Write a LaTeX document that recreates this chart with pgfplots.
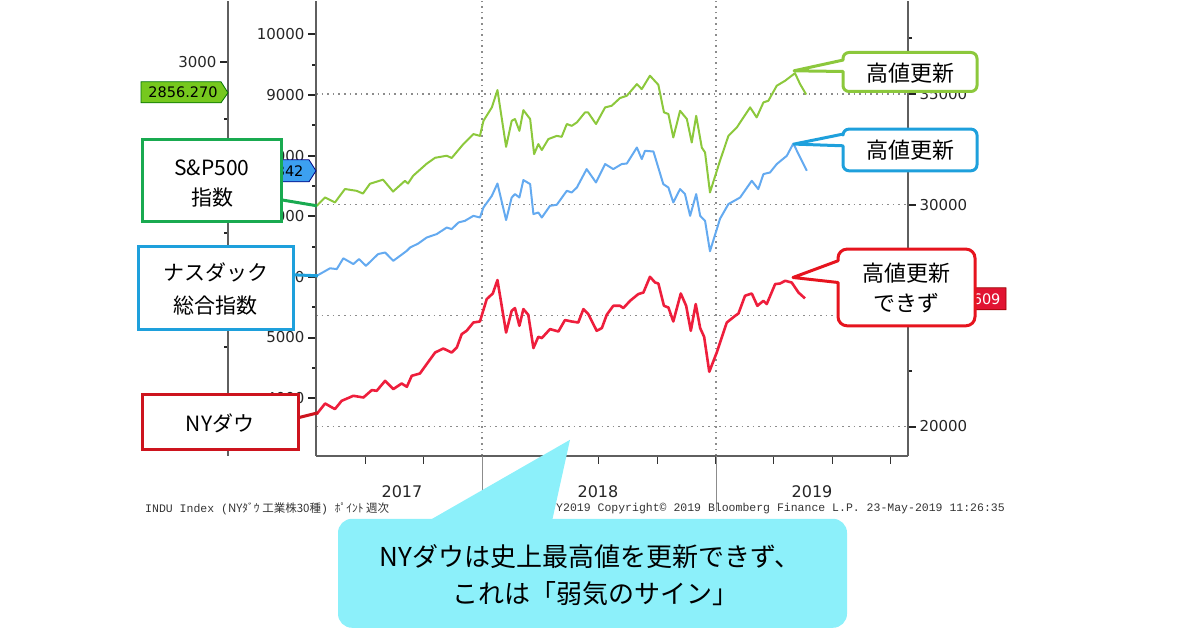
\documentclass[border=0pt]{standalone}
\usepackage{pgfplots}
\pgfplotsset{compat=1.18}
\usepackage{fontspec}
\setmainfont{DejaVu Sans}
\newfontfamily\jp{Noto Sans CJK JP}
\newfontfamily\mono{Liberation Mono}
\definecolor{spline}{RGB}{140,200,60}
\definecolor{nqline}{RGB}{100,170,240}
\definecolor{djline}{RGB}{238,30,60}
\definecolor{spbox}{RGB}{25,170,80}
\definecolor{nqbox}{RGB}{30,160,220}
\definecolor{djbox}{RGB}{205,20,30}
\definecolor{gcall}{RGB}{140,200,60}
\definecolor{rcall}{RGB}{230,20,30}
\definecolor{cyanbox}{RGB}{140,240,250}
\definecolor{axgray}{RGB}{95,95,95}
\definecolor{gridgray}{RGB}{140,140,140}
\definecolor{sptag}{RGB}{118,200,30}
\definecolor{nqtag}{RGB}{60,160,240}
\definecolor{djtag}{RGB}{225,20,50}
\pgfplotsset{
  base/.style={at={(316pt,175pt)}, anchor=south west, width=592pt, height=455pt,
    scale only axis, xmin=2017.289, xmax=2019.824, clip=true},
  ticklab/.style={font=\fontsize{15}{15}\selectfont, text=black!85},
}
\tikzset{gridst/.style={draw=gridgray, line width=1.3pt, dash pattern=on 1.6pt off 4pt}}
\begin{document}
\begin{tikzpicture}
\begin{scope}[x=1pt,y=1pt]
\useasboundingbox (0,0) rectangle (1200,630);
\draw[gridst] (482,175) -- (482,630);
\draw[gridst] (716,175) -- (716,630);
\end{scope}
% ---------- Dow axis (right) ----------
\begin{axis}[base, ymin=18679, ymax=39199,
  axis x line*=bottom, axis y line*=right,
  x axis line style={-}, y axis line style={-},
  axis line style={draw=axgray, line width=1.6pt},
  xtick={2017.5,2017.75,2018,2018.25,2018.5,2018.75,2019,2019.25,2019.5,2019.75},
  xticklabels={,,,,,,,,,},
  ytick={20000,25000,30000,35000}, yticklabels={20000,,30000,35000},
  minor ytick={22500,27500,32500,37500},
  scaled y ticks=false, scaled x ticks=false,
  tick align=outside, major tick length=8pt, minor tick length=4pt,
  xtick style={draw=black!80, line width=1pt},
  ytick style={draw=black!85, line width=2pt},
  minor tick style={line width=1pt},
  yticklabel style={ticklab},
  ymajorgrids, major grid style={gridst},
]
\addplot[djline, line width=2.6pt, line join=round] coordinates {
(2017.292,20559) (2017.328,21037) (2017.370,20785) (2017.399,21159) (2017.449,21385) (2017.492,21308) (2017.528,21642) (2017.549,21610) (2017.585,22061) (2017.620,21687) (2017.656,21939) (2017.678,21790) (2017.699,22287) (2017.734,22390) (2017.763,22814) (2017.799,23337) (2017.834,23518) (2017.870,23337) (2017.892,23563) (2017.913,24167) (2017.934,24316) (2017.963,24690) (2017.991,24736) (2018.020,25746) (2018.046,25998) (2018.066,26603) (2018.103,24239) (2018.127,25218) (2018.141,25340) (2018.160,24542) (2018.177,25295) (2018.198,25038) (2018.220,23536) (2018.241,24045) (2018.256,23987) (2018.291,24393) (2018.327,24285) (2018.355,24799) (2018.384,24736) (2018.412,24690) (2018.434,25295) (2018.455,25069) (2018.491,24316) (2018.513,24438) (2018.534,25038) (2018.562,25444) (2018.591,25444) (2018.605,25340) (2018.634,25669) (2018.669,25971) (2018.691,26043) (2018.719,26751) (2018.741,26494) (2018.755,26449) (2018.779,25444) (2018.798,25367) (2018.819,24736) (2018.851,25998) (2018.874,25444) (2018.894,24316) (2018.915,25520) (2018.934,24438) (2018.951,24045) (2018.973,22467) (2019.005,23337) (2019.048,24690) (2019.084,24993) (2019.098,25096) (2019.126,25895) (2019.155,25998) (2019.179,25444) (2019.205,25669) (2019.219,25520) (2019.255,26422) (2019.276,26449) (2019.298,26571) (2019.326,26494) (2019.355,26043) (2019.383,25776.61)
};
\end{axis}
% ---------- Nasdaq axis (left of plot) ----------
\begin{axis}[base, ymin=3048.4, ymax=10556,
  axis x line=none, axis y line*=left, y axis line style={-},
  axis line style={draw=axgray, line width=1.6pt},
  ytick={4000,5000,6000,7000,8000,9000,10000},
  yticklabels={4000,5000,6000,7000,8000,9000,10000},
  minor ytick={4500,5500,6500,7500,8500,9500},
  scaled y ticks=false,
  tick align=outside, major tick length=8pt, minor tick length=4pt,
  ytick style={draw=black!85, line width=2pt},
  minor tick style={line width=1pt},
  yticklabel style={ticklab},
]
\addplot[nqline, line width=2pt, line join=round] coordinates {
(2017.292,6018) (2017.349,6142) (2017.378,6129) (2017.406,6307) (2017.449,6212) (2017.473,6294) (2017.503,6183) (2017.555,6377) (2017.585,6403) (2017.620,6266) (2017.649,6348) (2017.678,6431) (2017.692,6485) (2017.727,6551) (2017.763,6650) (2017.806,6707) (2017.849,6815) (2017.870,6789) (2017.899,6898) (2017.927,6926) (2017.963,7008) (2017.991,6980) (2018.006,7145) (2018.042,7338) (2018.066,7541) (2018.103,6938) (2018.127,7310) (2018.141,7367) (2018.160,7310) (2018.177,7598) (2018.206,7532) (2018.220,7037) (2018.241,7063) (2018.256,6980) (2018.291,7173) (2018.320,7190) (2018.363,7421) (2018.384,7393) (2018.406,7475) (2018.448,7779) (2018.488,7558) (2018.527,7862) (2018.562,7779) (2018.598,7862) (2018.620,7871) (2018.663,8135) (2018.684,7944) (2018.698,8081) (2018.734,8069) (2018.776,7532) (2018.798,7475) (2018.819,7228) (2018.848,7449) (2018.869,7367) (2018.891,7008) (2018.917,7367) (2018.934,7008) (2018.955,6926) (2018.976,6423) (2019.019,6959) (2019.055,7202) (2019.105,7310) (2019.155,7586) (2019.183,7449) (2019.205,7697) (2019.233,7723) (2019.262,7862) (2019.305,7998) (2019.333,8201) (2019.355,8027) (2019.391,7750.84)
};
\end{axis}
% ---------- S&P 500 series ----------
\begin{axis}[base, ymin=1272, ymax=3267.5, hide axis]
\addplot[spline, line width=2pt, line join=round] coordinates {
(2017.292,2368) (2017.328,2405) (2017.370,2383) (2017.413,2442) (2017.463,2434) (2017.490,2422) (2017.520,2465) (2017.576,2483) (2017.619,2431) (2017.670,2478) (2017.683,2466) (2017.705,2500) (2017.763,2553) (2017.799,2579) (2017.849,2588) (2017.870,2578) (2017.920,2639) (2017.963,2683) (2017.991,2675) (2018.006,2741) (2018.042,2800) (2018.066,2876) (2018.103,2627) (2018.127,2741) (2018.141,2749) (2018.160,2697) (2018.177,2788) (2018.206,2749) (2018.223,2595) (2018.241,2639) (2018.256,2613) (2018.284,2661) (2018.320,2675) (2018.341,2671) (2018.363,2727) (2018.384,2719) (2018.406,2734) (2018.441,2778) (2018.454,2778) (2018.488,2727) (2018.527,2800) (2018.555,2807) (2018.591,2841) (2018.620,2851) (2018.663,2902) (2018.684,2880) (2018.719,2939) (2018.755,2899) (2018.779,2778) (2018.798,2771) (2018.819,2668) (2018.848,2785) (2018.877,2749) (2018.898,2646) (2018.917,2763) (2018.941,2624) (2018.955,2602) (2018.976,2427) (2019.019,2566) (2019.055,2675) (2019.091,2712) (2019.148,2800) (2019.176,2756) (2019.205,2822) (2019.226,2829) (2019.262,2895) (2019.298,2917) (2019.340,2950) (2019.362,2902) (2019.388,2856.27)
};
\end{axis}
% ---------- S&P 500 scale (far left) ----------
\begin{axis}[at={(228pt,175pt)}, anchor=south west, width=10pt, height=455pt,
  scale only axis, xmin=0, xmax=1, ymin=1272, ymax=3267.5,
  axis x line=none, axis y line*=left, y axis line style={-},
  axis line style={draw=axgray, line width=1.6pt},
  ytick={1500,2000,2500,3000}, yticklabels={,,,3000},
  minor ytick={1750,2250,2750},
  scaled y ticks=false,
  tick align=outside, major tick length=8pt, minor tick length=4pt,
  ytick style={draw=black!85, line width=2pt},
  minor tick style={line width=1pt},
  yticklabel style={ticklab},
]
\end{axis}
\begin{scope}[x=1pt,y=1pt]
% ---------- below-axis separators and years ----------
\draw[gridgray, line width=0.8pt] (482,175) -- (482,119);
\draw[gridgray, line width=0.8pt] (716,175) -- (716,119);
\node[font=\fontsize{16}{16}\selectfont, text=black!85] at (402,139) {2017};
\node[font=\fontsize{16}{16}\selectfont, text=black!85] at (598,139) {2018};
\node[font=\fontsize{16}{16}\selectfont, text=black!85] at (812,139) {2019};
% footer
\node[anchor=west, font=\fontsize{11.5}{12}\selectfont\mono, text=black!80, inner sep=0pt] at (145,122) {INDU Index ({\jp NYﾀﾞｳ 工業株30種}) {\jp ﾎﾟｲﾝﾄ 週次}};
\node[anchor=east, font=\fontsize{11.5}{12}\selectfont\mono, text=black!80, inner sep=0pt] at (1005,122) {Y2019 Copyright© 2019 Bloomberg Finance L.P. 23-May-2019 11:26:35};
% ---------- value tags ----------
\filldraw[fill=sptag, draw=black!55!green, line width=0.8pt] (141,549) -- (221,549) -- (228,538) -- (221,528) -- (141,528) -- cycle;
\node[font=\fontsize{14.5}{15}\selectfont, text=black] at (183,538.5) {2856.270};
\filldraw[fill=nqtag, draw=black!50!blue, line width=0.8pt] (232,471) -- (309,471) -- (316,460) -- (309,449) -- (232,449) -- cycle;
\node[font=\fontsize{14.5}{15}\selectfont, text=black, anchor=east] at (307,460) {342};
\filldraw[fill=djtag, draw=black!40!red, line width=0.8pt] (908,332) -- (915,343) -- (1006,343) -- (1006,321) -- (915,321) -- cycle;
\node[font=\fontsize{14.5}{15}\selectfont, text=white, anchor=east] at (1004,332) {609};
% ---------- left labels ----------
\draw[spbox, line width=3pt] (281,431) -- (317,425);
\draw[spbox, line width=3pt, fill=white] (142,409) rectangle (281,491);
\node[font=\fontsize{21}{21}\selectfont\jp] at (212,463) {S\&P500};
\node[font=\fontsize{21}{21}\selectfont\jp] at (212,433) {指数};
\draw[nqbox, line width=3pt] (293,356) -- (318,355);
\draw[nqbox, line width=3pt, fill=white] (138,301) rectangle (293,384);
\node[font=\fontsize{21}{21}\selectfont\jp] at (215.5,358) {ナスダック};
\node[font=\fontsize{21}{21}\selectfont\jp] at (215.5,325) {総合指数};
\draw[djbox, line width=3pt] (298,213) -- (318,218);
\draw[djbox, line width=3pt, fill=white] (142,181) rectangle (298,236);
\node[font=\fontsize{21}{21}\selectfont\jp] at (220,207) {NYダウ};
% ---------- right callouts ----------
\draw[gcall, line width=3pt, fill=white, line join=round] (794,560) -- (843,570.7) [rounded corners=6pt] -- (843,578.3) -- (977,578.3) -- (977,539.3) -- (843,539.3) [sharp corners] -- (843,559.3) -- cycle;
\node[font=\fontsize{22}{22}\selectfont\jp] at (910,558) {高値更新};
\draw[nqbox, line width=3pt, fill=white, line join=round] (794,486.7) -- (843,496.7) [rounded corners=6pt] -- (843,501.7) -- (977,501.7) -- (977,460) -- (843,460) [sharp corners] -- (843,485) -- cycle;
\node[font=\fontsize{22}{22}\selectfont\jp] at (910,481) {高値更新};
\draw[rcall, line width=3pt, fill=white, line join=round] (793,353.3) -- (838,370) [rounded corners=9pt] -- (838,381.7) -- (975,381.7) -- (975,305) -- (838,305) [sharp corners] -- (838,348.3) -- cycle;
\node[font=\fontsize{22}{22}\selectfont\jp] at (906,358) {高値更新};
\node[font=\fontsize{22}{22}\selectfont\jp] at (906,328) {できず};
% ---------- bottom callout ----------
\fill[cyanbox, rounded corners=14pt] (338,3) rectangle (847,112);
\fill[cyanbox] (570,191) -- (551,105) -- (420,105) -- cycle;
\node[font=\fontsize{26}{26}\selectfont\jp] at (590,74) {NYダウは史上最高値を更新できず、};
\node[font=\fontsize{26}{26}\selectfont\jp] at (595,37) {これは「弱気のサイン」};
\end{scope}
\end{tikzpicture}
\end{document}
